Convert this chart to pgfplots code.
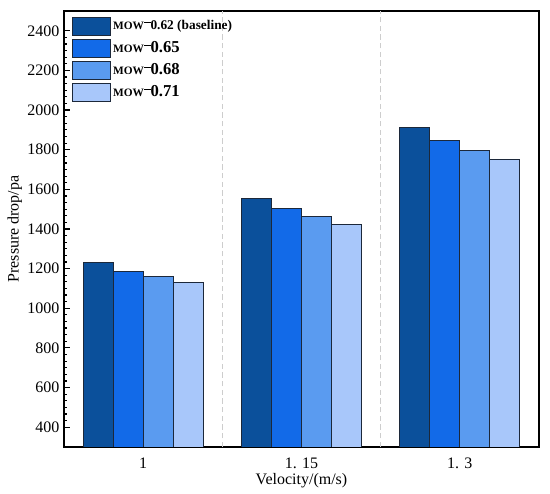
\documentclass[border=0pt]{standalone}
\usepackage{fontspec}
\setmainfont{Liberation Serif}
\usepackage{pgfplots}
\pgfplotsset{compat=1.18}
\definecolor{cA}{RGB}{11,80,155}
\definecolor{cB}{RGB}{18,106,232}
\definecolor{cC}{RGB}{90,155,240}
\definecolor{cD}{RGB}{168,199,250}
\definecolor{edge}{RGB}{28,40,58}
\definecolor{gridc}{RGB}{205,205,205}
\newcommand{\mow}[2]{{\fontsize{8.5}{10}\selectfont\bfseries MOW}\rule[5pt]{5pt}{0.8pt}{\fontsize{#1}{#1}\selectfont\bfseries #2}}
\begin{document}
\begin{tikzpicture}
\begin{axis}[
  scale only axis,
  width=356.25pt, height=327pt,
  ybar=0pt, bar width=22.5pt,
  xmin=-0.5, xmax=2.5,
  ymin=300, ymax=2500,
  xtick={0,1,2},
  xticklabels={1, {1. 15}, {1. 3}},
  major x tick style={draw=none},
  extra x ticks={0.5,1.5},
  extra x tick labels={},
  extra x tick style={grid=major, major grid style={gridc, dash pattern=on 4pt off 2.5pt, line width=0.6pt}, major tick length=4pt, tick style={black, line width=0.9pt}},
  ytick={400,600,...,2400},
  minor y tick num=5,
  tick align=inside,
  xtick pos=bottom, ytick pos=left,
  major tick length=4.5pt, minor tick length=2.3pt,
  tick style={black, line width=0.9pt},
  axis line style={black, line width=1.1pt},
  /pgf/number format/assume math mode=true,
  /pgf/number format/1000 sep={},
  ticklabel style={font=\fontsize{12}{14}\selectfont},
  xticklabel style={yshift=-5pt},
  xlabel={Velocity/(m/s)},
  ylabel={Pressure drop/pa},
  label style={font=\fontsize{12}{14}\selectfont},
  xlabel style={yshift=4pt},
  ylabel style={yshift=-3pt},
  legend image code/.code={\draw[#1] (0pt,-6.75pt) rectangle (28pt,6.75pt);},
  legend cell align=left,
  legend style={at={(0,1)}, anchor=north west, xshift=5pt, yshift=-3pt, draw=none, fill=none, row sep=2.5pt, inner sep=1pt, nodes={inner sep=2pt}},
]
\addplot[fill=cA, draw=edge, line width=0.6pt] coordinates {(0,1230) (1,1552) (2,1912)};
\addplot[fill=cB, draw=edge, line width=0.6pt] coordinates {(0,1188) (1,1502) (2,1848)};
\addplot[fill=cC, draw=edge, line width=0.6pt] coordinates {(0,1160) (1,1462) (2,1798)};
\addplot[fill=cD, draw=edge, line width=0.6pt] coordinates {(0,1130) (1,1425) (2,1752)};
\addlegendentry{\mow{10}{0.62 (baseline)}}
\addlegendentry{\mow{12.5}{0.65}}
\addlegendentry{\mow{12.5}{0.68}}
\addlegendentry{\mow{12.5}{0.71}}
\end{axis}
\pgfresetboundingbox
\path[use as bounding box] (current axis.south west) ++(-48pt,-35.25pt) rectangle ([xshift=8.25pt,yshift=8.25pt]current axis.north east);
\end{tikzpicture}
\end{document}
